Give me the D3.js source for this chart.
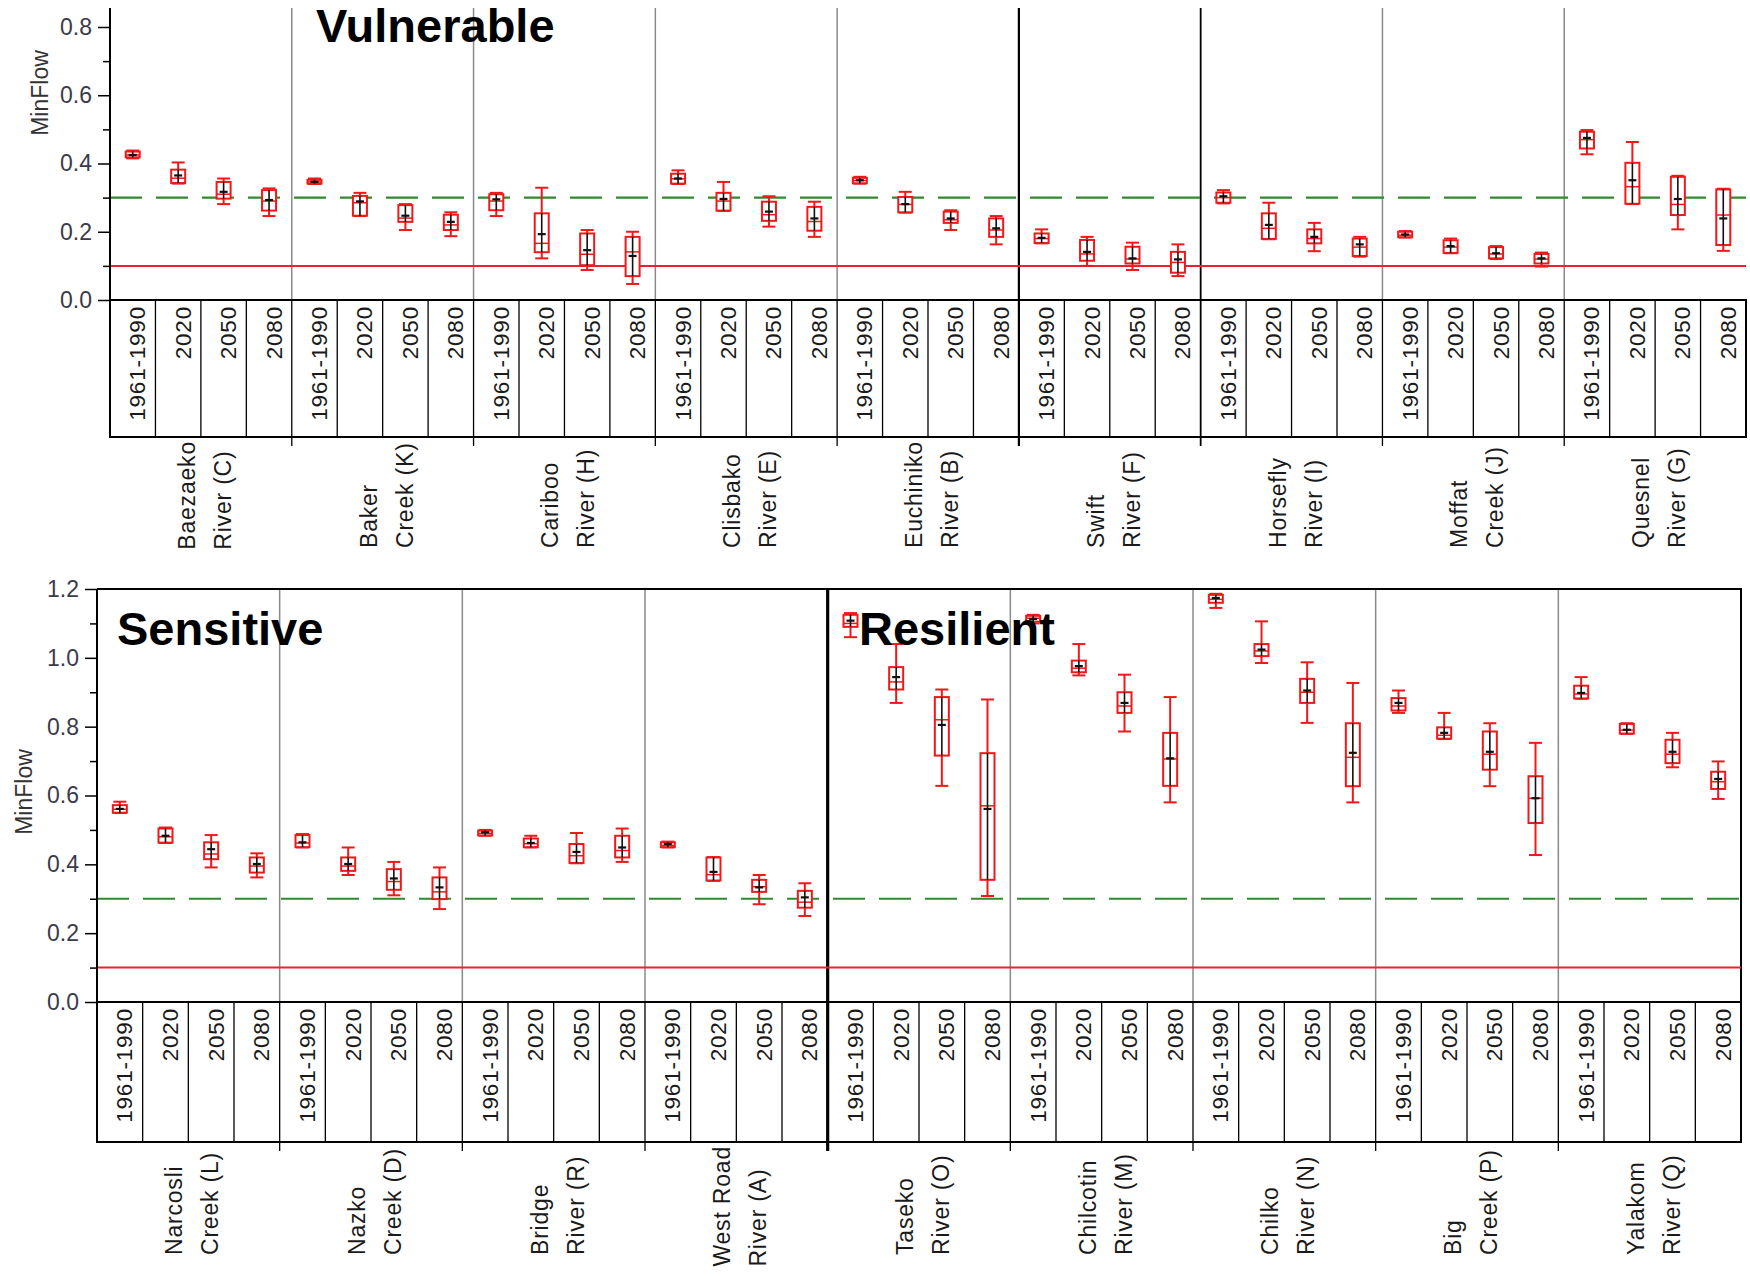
<!DOCTYPE html>
<html>
<head>
<meta charset="utf-8">
<script src="https://cdn.jsdelivr.net/npm/d3@7"></script>
<style>
  body { margin: 0; background: #fff; }
  svg text { font-family: "Liberation Sans", Arial, sans-serif; }
</style>
</head>
<body>
<svg id="chart" width="1750" height="1277"></svg>
<script>
var periods = ["1961-1990", "2020", "2050", "2080"];

// top panel
var topRivers = [["Baezaeko", "River (C)"], ["Baker", "Creek (K)"], ["Cariboo", "River (H)"],
  ["Clisbako", "River (E)"], ["Euchiniko", "River (B)"], ["Swift", "River (F)"],
  ["Horsefly", "River (I)"], ["Moffat", "Creek (J)"], ["Quesnel", "River (G)"]];
var topLo   = [.415,.341,.281,.246, .340,.246,.205,.187, .246,.122,.088,.047, .340,.261,.215,.185, .341,.256,.205,.163, .166,.100,.088,.070, .283,.178,.143,.127, .183,.137,.120,.098, .427,.281,.207,.144];
var topQ1   = [.418,.343,.297,.262, .341,.247,.229,.205, .263,.140,.102,.070, .341,.262,.232,.203, .342,.257,.226,.185, .167,.115,.107,.080, .285,.179,.166,.129, .184,.138,.122,.107, .444,.282,.249,.161];
var topMed  = [.425,.357,.310,.290, .346,.285,.240,.220, .290,.166,.134,.141, .355,.290,.250,.230, .350,.280,.235,.205, .180,.135,.120,.110, .300,.210,.180,.155, .190,.155,.135,.120, .470,.332,.280,.249];
var topQ3   = [.435,.382,.346,.322, .352,.305,.278,.250, .310,.254,.195,.185, .370,.314,.288,.273, .358,.302,.259,.239, .195,.176,.156,.141, .315,.254,.207,.180, .200,.175,.155,.135, .493,.402,.361,.324];
var topHi   = [.438,.403,.356,.327, .356,.314,.281,.257, .314,.329,.205,.200, .380,.346,.304,.288, .361,.317,.263,.246, .207,.185,.168,.163, .322,.285,.226,.185, .202,.180,.158,.139, .498,.463,.364,.326];
var topMean = [.425,.365,.317,.293, .346,.289,.247,.229, .295,.193,.146,.129, .356,.296,.259,.239, .351,.281,.239,.210, .182,.141,.122,.119, .304,.220,.185,.163, .192,.158,.137,.122, .475,.351,.296,.239];

// bottom panel
var botRivers = [["Narcosli", "Creek (L)"], ["Nazko", "Creek (D)"], ["Bridge", "River (R)"],
  ["West Road", "River (A)"], ["Taseko", "River (O)"], ["Chilcotin", "River (M)"],
  ["Chilko", "River (N)"], ["Big", "Creek (P)"], ["Yalakom", "River (Q)"]];
var botLo   = [.549,.462,.391,.362, .449,.369,.310,.270, .483,.449,.403,.407, .449,.352,.284,.250, 1.06,.869,.628,.308, 1.10,.949,.786,.580, 1.145,.985,.811,.580, .840,.764,.627,.427, .881,.779,.682,.590];
var botQ1   = [.550,.463,.415,.376, .450,.381,.326,.299, .484,.450,.404,.420, .450,.353,.320,.274, 1.09,.908,.716,.355, 1.105,.958,.840,.628, 1.16,1.005,.869,.627, .847,.765,.675,.520, .882,.780,.694,.619];
var botMed  = [.560,.480,.430,.395, .462,.395,.350,.320, .490,.460,.425,.440, .455,.370,.335,.290, 1.10,.930,.820,.570, 1.115,.970,.860,.706, 1.17,1.02,.900,.711, .860,.775,.720,.592, .895,.790,.720,.640];
var botQ3   = [.572,.504,.464,.420, .485,.420,.386,.362, .498,.475,.459,.483, .464,.420,.355,.323, 1.125,.973,.886,.723, 1.122,.992,.900,.782, 1.183,1.04,.939,.810, .883,.798,.786,.656, .919,.808,.762,.669];
var botHi   = [.582,.507,.485,.432, .488,.449,.407,.391, .500,.483,.491,.504, .466,.421,.369,.345, 1.13,1.04,.908,.879, 1.125,1.04,.951,.886, 1.186,1.106,.987,.927, .905,.840,.810,.753, .944,.810,.782,.699];
var botMean = [.561,.483,.444,.401, .464,.401,.359,.333, .493,.462,.436,.449, .459,.378,.333,.304, 1.108,.944,.805,.561, 1.113,.976,.869,.708, 1.174,1.024,.905,.724, .869,.782,.727,.592, .898,.791,.727,.648];

var svg = d3.select("#chart");

function drawPanel(p) {
  var g = svg.append("g");
  var keys = [];
  p.rivers.forEach(function(r, i) {
    periods.forEach(function(per) { keys.push(i + "|" + per); });
  });

  var x = d3.scaleBand().domain(keys).range([p.left, p.right]);
  var y = d3.scaleLinear().domain([0, p.max]).range([p.y0, p.y1]);
  var groupW = x.bandwidth() * 4;

  var boxes = keys.map(function(k, i) {
    return { key: k, lo: p.lo[i], q1: p.q1[i], med: p.med[i], q3: p.q3[i], hi: p.hi[i], mean: p.mean[i] };
  });

  function sepWidth(i) {
    var j = p.darkSeps.indexOf(i);
    return j >= 0 ? p.darkW[j] : null;
  }

  // group separators in plot area
  d3.range(1, p.rivers.length).forEach(function(i) {
    var xx = p.left + i * groupW;
    var w = sepWidth(i);
    g.append("line")
      .attr("x1", xx).attr("x2", xx)
      .attr("y1", p.plotTop).attr("y2", p.y0)
      .attr("stroke", w ? "#000" : "#8a8a8a")
      .attr("stroke-width", w || 1.5);
  });

  // frame
  if (p.frame) {
    g.append("path")
      .attr("d", "M" + p.left + "," + p.plotTop + "H" + p.right + "V" + p.y0)
      .attr("fill", "none").attr("stroke", "#000").attr("stroke-width", 2);
  }

  // reference lines
  g.append("line")
    .attr("x1", p.left).attr("x2", p.right)
    .attr("y1", y(0.1)).attr("y2", y(0.1))
    .attr("stroke", "#e8242a").attr("stroke-width", 2);
  g.append("line")
    .attr("x1", p.left).attr("x2", p.right)
    .attr("y1", y(0.3)).attr("y2", y(0.3))
    .attr("stroke", "#2f8a2f").attr("stroke-width", 2.2)
    .attr("stroke-dasharray", "32,14");

  // boxes
  var bw = 14, cap = 13;
  var bx = g.selectAll("g.box").data(boxes).enter().append("g")
    .attr("class", "box")
    .attr("transform", function(d) { return "translate(" + (x(d.key) + x.bandwidth() / 2) + ",0)"; });

  bx.append("line")
    .attr("y1", function(d) { return y(d.lo); })
    .attr("y2", function(d) { return y(d.hi); })
    .attr("stroke", "#f01818").attr("stroke-width", 2);
  bx.append("line")
    .attr("x1", -cap / 2).attr("x2", cap / 2)
    .attr("y1", function(d) { return y(d.hi); }).attr("y2", function(d) { return y(d.hi); })
    .attr("stroke", "#f01818").attr("stroke-width", 2);
  bx.append("line")
    .attr("x1", -cap / 2).attr("x2", cap / 2)
    .attr("y1", function(d) { return y(d.lo); }).attr("y2", function(d) { return y(d.lo); })
    .attr("stroke", "#f01818").attr("stroke-width", 2);
  bx.append("rect")
    .attr("x", -bw / 2).attr("width", bw)
    .attr("y", function(d) { return y(d.q3); })
    .attr("height", function(d) { return Math.max(1, y(d.q1) - y(d.q3)); })
    .attr("fill", "#fff").attr("stroke", "#f01818").attr("stroke-width", 2);
  bx.append("line")
    .attr("x1", -bw / 2).attr("x2", bw / 2)
    .attr("y1", function(d) { return y(d.med); }).attr("y2", function(d) { return y(d.med); })
    .attr("stroke", "#f01818").attr("stroke-width", 1.5);
  // black mean marker
  bx.append("line")
    .attr("y1", function(d) { return y(d.q1); })
    .attr("y2", function(d) { return y(d.q3); })
    .attr("stroke", "#111").attr("stroke-width", 1.6);
  bx.append("line")
    .attr("x1", -4).attr("x2", 4)
    .attr("y1", function(d) { return y(d.mean); }).attr("y2", function(d) { return y(d.mean); })
    .attr("stroke", "#111").attr("stroke-width", 2.2);

  // y axis
  var axis = d3.axisLeft(y).tickValues(d3.range(0, p.max + 0.001, 0.2))
    .tickFormat(d3.format(".1f")).tickSize(12).tickPadding(6);
  var ag = g.append("g").attr("transform", "translate(" + p.left + ",0)").call(axis);
  ag.select(".domain").remove();
  ag.selectAll(".tick line").attr("stroke", "#000").attr("stroke-width", 1.5);
  ag.selectAll(".tick text").attr("font-size", 23).attr("fill", "#3a3a4a")
    .attr("font-family", "Liberation Sans, Arial, sans-serif");
  var minor = d3.axisLeft(y).tickValues(d3.range(0.1, p.max, 0.2)).tickFormat("").tickSize(7);
  var mg = g.append("g").attr("transform", "translate(" + p.left + ",0)").call(minor);
  mg.select(".domain").remove();
  mg.selectAll(".tick line").attr("stroke", "#000").attr("stroke-width", 1.5);
  g.append("line")
    .attr("x1", p.left).attr("x2", p.left)
    .attr("y1", p.plotTop).attr("y2", p.y0)
    .attr("stroke", "#000").attr("stroke-width", 2);

  g.append("text")
    .attr("transform", "translate(" + p.yLabelX + "," + p.yLabelY + ") rotate(-90)")
    .attr("text-anchor", "middle").attr("dominant-baseline", "central")
    .attr("font-size", 23).attr("fill", "#333")
    .text("MinFlow");

  // category box below axis
  g.append("rect")
    .attr("x", p.left).attr("y", p.y0)
    .attr("width", p.right - p.left).attr("height", p.boxBottom - p.y0)
    .attr("fill", "none").attr("stroke", "#000").attr("stroke-width", 2);
  g.selectAll("line.cell").data(keys.slice(1)).enter().append("line")
    .attr("x1", function(k) { return x(k); }).attr("x2", function(k) { return x(k); })
    .attr("y1", p.y0)
    .attr("y2", function(k, i) { return (i + 1) % 4 === 0 ? p.boxBottom + 9 : p.boxBottom; })
    .attr("stroke", "#000")
    .attr("stroke-width", function(k, i) {
      return (i + 1) % 4 === 0 && sepWidth((i + 1) / 4) ? sepWidth((i + 1) / 4) : 1.3;
    });

  g.selectAll("text.per").data(keys).enter().append("text")
    .attr("transform", function(k) {
      return "translate(" + (x(k) + x.bandwidth() / 2 + 5) + "," + (p.y0 + 6) + ") rotate(-90)";
    })
    .attr("text-anchor", "end").attr("dominant-baseline", "central")
    .attr("font-size", 22.5).attr("letter-spacing", 0.8).attr("fill", "#1a1a1a")
    .text(function(k) { return k.split("|")[1]; });

  // river names, two lines each, pushed down when they do not fit
  p.rivers.forEach(function(r, i) {
    var cx = p.left + (i + 0.5) * groupW;
    var lines = [-14, 22].map(function(dx, j) {
      return g.append("text")
        .attr("text-anchor", "start").attr("dominant-baseline", "central")
        .attr("font-size", 23).attr("letter-spacing", 0.8).attr("fill", "#1a1a1a")
        .datum(cx + dx)
        .text(r[j]);
    });
    var longest = d3.max(lines, function(t) { return t.node().getComputedTextLength(); });
    var bottom = Math.max(p.nameBottom, p.boxBottom + 4 + longest);
    lines.forEach(function(t) {
      t.attr("transform", "translate(" + t.datum() + "," + bottom + ") rotate(-90)");
    });
  });

  // category titles
  p.titles.forEach(function(t) {
    g.append("text")
      .attr("x", t.x).attr("y", t.y)
      .attr("font-size", 47).attr("font-weight", "bold").attr("fill", "#000")
      .text(t.text);
  });
}

drawPanel({
  rivers: topRivers, lo: topLo, q1: topQ1, med: topMed, q3: topQ3, hi: topHi, mean: topMean,
  left: 110, right: 1746, max: 0.8, y0: 300, y1: 27, plotTop: 8,
  boxBottom: 437, nameBottom: 548, frame: false,
  darkSeps: [5, 6], darkW: [2.2, 1.8],
  yLabelX: 40, yLabelY: 93,
  titles: [{ text: "Vulnerable", x: 316, y: 42 }]
});

drawPanel({
  rivers: botRivers, lo: botLo, q1: botQ1, med: botMed, q3: botQ3, hi: botHi, mean: botMean,
  left: 97, right: 1741, max: 1.2, y0: 1002, y1: 589, plotTop: 589,
  boxBottom: 1142, nameBottom: 1255, frame: true,
  darkSeps: [4], darkW: [3.2],
  yLabelX: 24, yLabelY: 792,
  titles: [{ text: "Sensitive", x: 117, y: 645 }, { text: "Resilient", x: 859, y: 645 }]
});
</script>
</body>
</html>
